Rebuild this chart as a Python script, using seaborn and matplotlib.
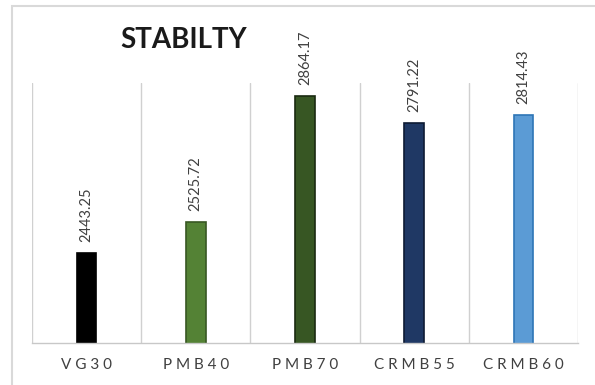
import matplotlib
matplotlib.use("Agg")
import matplotlib.pyplot as plt
from matplotlib.patches import Rectangle
import seaborn as sns
import pandas as pd

# Marshall stability by binder type
binders = ["VG30", "PMB40", "PMB70", "CRMB55", "CRMB60"]
stability = [2443.25, 2525.72, 2864.17, 2791.22, 2814.43]
fill_colors = ["#000000", "#548235", "#375623", "#1F3864", "#5B9BD5"]
edge_colors = ["#000000", "#385723", "#1a2a10", "#0d1a33", "#2E75B6"]

df = pd.DataFrame({"binder": binders, "stability": stability})

sns.set_theme(style="white")
plt.rcParams["font.family"] = ["Lato", "DejaVu Sans"]

fig = plt.figure(figsize=(5.95, 3.85), dpi=100)
ax = fig.add_axes([32 / 595, 1 - 343 / 385, 546 / 595, 260 / 385])

sns.barplot(data=df, x="binder", y="stability", hue="binder",
            palette=fill_colors, width=0.18, legend=False, ax=ax,
            linewidth=1.2, saturation=1)
for patch, ec in zip(ax.patches, edge_colors):
    patch.set_edgecolor(ec)

ax.set_ylim(2200, 2900)
ax.set_xlim(-0.5, len(binders) - 0.5)

# value labels above each bar
for i, v in enumerate(stability):
    ax.annotate(f"{v:.2f}", xy=(i, v), xytext=(0, 8), textcoords="offset points",
                rotation=90, ha="center", va="bottom", fontsize=10.5,
                color="#404040")

# category separators as vertical gridlines
ax.set_xticks([i - 0.5 for i in range(len(binders) + 1)], minor=True)
ax.grid(which="minor", axis="x", color="#d0d0d0", linewidth=1)
ax.grid(which="major", visible=False)
ax.set_xticks(range(len(binders)))
ax.set_xticklabels([" ".join(b) for b in binders], fontsize=11, color="#404040")
ax.tick_params(axis="x", which="both", length=0, pad=11)
ax.set_yticks([])
ax.set_xlabel("")
ax.set_ylabel("")
for side in ["left", "right", "top"]:
    ax.spines[side].set_visible(False)
ax.spines["bottom"].set_color("#c8c8c8")
ax.spines["bottom"].set_linewidth(1)

fig.text(184 / 595, 1 - 40 / 385, "STABILTY", ha="center", va="center",
         fontsize=20, fontweight="bold", color="#1a1a1a")

# chart frame
fig.patches.append(Rectangle((12 / 595, -0.1), 1.2, 1 - 6 / 385 + 0.1,
                             transform=fig.transFigure, fill=False,
                             edgecolor="#d9d9d9", linewidth=1.5))

fig.savefig("out.png", dpi=100)
